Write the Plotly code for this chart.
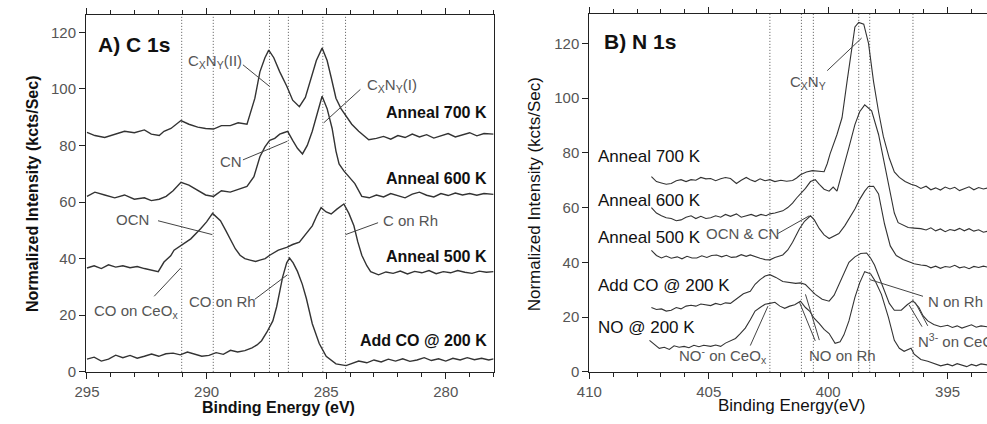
import plotly.graph_objects as go

# ---------------- Panel A : C 1s ----------------
A700_E = [295.0, 294.67, 294.26, 293.84, 293.43, 293.02, 292.6, 292.31, 291.98, 291.78, 291.49, 291.07, 290.74, 290.37, 290.04, 289.71, 289.38, 289.01, 288.68, 288.31, 287.98, 287.77, 287.56, 287.4, 287.19, 286.94, 286.65, 286.4, 286.12, 285.87, 285.62, 285.41, 285.17, 284.96, 284.79, 284.59, 284.38, 284.17, 283.93, 283.64, 283.43, 283.22, 282.9, 282.6, 282.3, 282.0, 281.7, 281.4, 281.1, 280.8, 280.5, 280.2, 279.9, 279.6, 279.3, 279.0, 278.7, 278.4, 278.0]
A700_I = [84.6, 83.5, 82.8, 84, 85, 84.5, 85.5, 84, 83.5, 85, 86, 88.8, 87.5, 86.5, 86, 85.8, 87, 87, 88, 87.5, 96.7, 106, 111, 113.7, 111, 106, 101, 96, 93.7, 97, 104, 110, 114.4, 110, 104, 96.7, 93, 90.5, 87.5, 85, 83.5, 82, 82.5, 83.2, 82.2, 83.5, 82.8, 84, 83, 83.8, 82.6, 83.5, 84.2, 83, 83.8, 84.5, 83.4, 84.2, 84]

A600_E = [295.0, 294.67, 294.26, 293.84, 293.43, 293.02, 292.6, 292.31, 291.98, 291.69, 291.4, 291.07, 290.74, 290.37, 290.04, 289.71, 289.38, 289.01, 288.68, 288.31, 288.02, 287.77, 287.56, 287.36, 287.15, 286.94, 286.78, 286.61, 286.4, 286.2, 285.99, 285.79, 285.58, 285.41, 285.17, 284.96, 284.75, 284.59, 284.46, 284.26, 284.05, 283.8, 283.51, 283.2, 282.9, 282.6, 282.3, 282.0, 281.7, 281.4, 281.1, 280.8, 280.5, 280.2, 279.9, 279.6, 279.3, 279.0, 278.7, 278.4, 278.0]
A600_I = [62, 63.5, 62.5, 61.5, 62.5, 61, 61.5, 60.5, 61, 62, 64, 67, 66, 64, 62.5, 62, 64, 63.5, 64.5, 65.5, 69, 76, 79.5, 81.8, 82.5, 84, 84.5, 85, 81.8, 79, 77, 80, 85, 89.8, 97.4, 93, 86, 78, 73.5, 71, 69, 66.5, 62, 61.5, 62.5, 61.8, 63, 62.2, 61.5, 62.8, 63.5, 62.4, 61.8, 63, 62.3, 63.2, 62.5, 63, 62.4, 63, 62.7]

A500_E = [295.0, 294.7, 294.4, 294.1, 293.8, 293.5, 293.2, 292.9, 292.6, 292.3, 292.02, 291.78, 291.5, 291.36, 291.03, 290.66, 290.25, 290.0, 289.75, 289.55, 289.42, 289.2, 289.01, 288.8, 288.6, 288.4, 288.18, 287.95, 287.77, 287.55, 287.36, 287.0, 286.65, 286.4, 286.12, 285.85, 285.58, 285.4, 285.21, 285.0, 284.79, 284.55, 284.26, 284.05, 283.84, 283.68, 283.51, 283.3, 283.14, 282.81, 282.5, 282.2, 281.9, 281.6, 281.3, 281.0, 280.7, 280.4, 280.1, 279.8, 279.5, 279.2, 278.9, 278.6, 278.3, 278.0]
A500_I = [36.7, 37.5, 36.5, 37.8, 37, 37.5, 36.8, 37.2, 36.5, 35.8, 35.4, 38.8, 41, 43, 45, 47, 50.6, 53, 56, 54.5, 53.4, 50, 47, 43.5, 41.2, 40, 39.5, 39, 39.5, 40, 41.2, 43, 44, 45, 45.8, 48.5, 51.6, 55, 58, 56.5, 55.8, 57.5, 59.3, 56, 51.6, 46, 41.2, 37.5, 35.4, 34.3, 35.3, 34.8, 35.6, 34.6, 35.5, 35, 35.8, 34.7, 35.4, 35, 35.8, 35.2, 34.8, 35.6, 35.2, 35.4]

A200_E = [295.0, 294.7, 294.4, 294.1, 293.8, 293.5, 293.2, 292.9, 292.6, 292.3, 292.0, 291.7, 291.4, 291.1, 290.8, 290.5, 290.2, 289.9, 289.6, 289.3, 289.0, 288.7, 288.4, 288.1, 287.89, 287.7, 287.48, 287.23, 287.07, 286.95, 286.82, 286.65, 286.53, 286.38, 286.2, 286.0, 285.83, 285.58, 285.29, 285.0, 284.59, 284.17, 283.9, 283.64, 283.3, 283.0, 282.7, 282.4, 282.1, 281.8, 281.5, 281.2, 280.9, 280.6, 280.3, 280.0, 279.7, 279.4, 279.1, 278.8, 278.5, 278.2, 278.0]
A200_I = [4.5, 5.2, 3.8, 4.5, 5.9, 5, 5.8, 4.8, 5.5, 6.3, 5.5, 6.4, 6.6, 6, 7, 6.2, 5.5, 5.8, 6.8, 6.2, 7.6, 7, 7.5, 8.5, 9.5, 11, 14, 18, 23, 28, 33.5, 38.5, 40.2, 38.5, 35.5, 31, 26, 17, 10, 5.5, 2.8, 2.2, 3, 3.8, 3.2, 4.2, 3.5, 4.5, 3.8, 4.6, 3.7, 4.2, 5, 4, 4.6, 3.8, 4.8, 4.2, 5, 4.3, 4.8, 4.2, 4.6]

A_REF = [291.04, 289.72, 287.37, 286.58, 285.14, 284.19]

# ---------------- Panel B : N 1s ----------------
B700_E = [407.4, 407.19, 406.98, 406.78, 406.57, 406.36, 406.16, 405.95, 405.74, 405.54, 405.33, 405.12, 404.92, 404.71, 404.5, 404.3, 404.09, 403.84, 403.64, 403.43, 403.26, 403.06, 402.85, 402.64, 402.44, 402.23, 401.98, 401.74, 401.49, 401.32, 401.16, 400.91, 400.66, 400.41, 400.17, 400.04, 399.92, 399.63, 399.42, 399.21, 399.01, 398.88, 398.72, 398.51, 398.31, 398.1, 397.89, 397.69, 397.44, 397.23, 397.02, 396.78, 396.53, 396.32, 396.12, 395.9, 395.7, 395.5, 395.3, 395.1, 394.9, 394.7, 394.5, 394.3, 394.1, 393.9, 393.7, 393.5, 393.3]
B700_I = [71.3, 69.5, 69, 68.5, 68.8, 69.8, 70.2, 69.5, 70.2, 70, 71, 70.5, 70.6, 69.8, 70.5, 71, 70.6, 68.8, 70, 71, 70.2, 69.5, 70.5, 69.8, 70.2, 69.5, 70, 69.6, 69.9, 70.8, 72, 73, 73.5, 73.3, 73.1, 76, 79.6, 86.7, 92.8, 106, 118, 126, 127.6, 127, 120, 106, 95, 86, 78, 73, 71, 69.5, 68.5, 68, 67, 67.8, 66.5, 67.2, 66.4, 67.5, 66.8, 67.4, 66.2, 67, 67.6, 66.5, 67.3, 66.8, 67.2]

B600_E = [407.4, 407.19, 406.98, 406.78, 406.57, 406.36, 406.16, 405.95, 405.74, 405.54, 405.33, 405.12, 404.92, 404.71, 404.5, 404.3, 404.09, 403.84, 403.64, 403.43, 403.22, 403.02, 402.81, 402.6, 402.44, 402.23, 401.9, 401.69, 401.49, 401.32, 401.16, 400.95, 400.74, 400.54, 400.37, 400.17, 399.96, 399.79, 399.63, 399.42, 399.13, 398.88, 398.68, 398.47, 398.18, 397.89, 397.64, 397.44, 397.23, 397.07, 396.86, 396.65, 396.4, 396.12, 395.9, 395.7, 395.5, 395.3, 395.1, 394.9, 394.7, 394.5, 394.3, 394.1, 393.9, 393.7, 393.5, 393.3]
B600_I = [60, 58, 57, 56.3, 56, 55.2, 55.5, 56.5, 57, 56, 56.8, 56, 56.3, 57, 56.5, 57.5, 56.8, 57.7, 56.5, 57, 57.5, 56.8, 57.5, 57, 57.7, 58, 58.8, 60, 61.6, 63.5, 64.9, 67, 69.5, 70.2, 68.5, 66.7, 66, 67.5, 66, 72.4, 82, 90.3, 95, 97.5, 95.3, 86.7, 76, 66.7, 58, 54.5, 53.5, 52.7, 52.5, 52.3, 51.8, 52.6, 51.5, 52.2, 51.2, 52, 51.6, 52.4, 51.5, 52.3, 51.4, 51.9, 51, 51.4]

B500_E = [407.4, 407.19, 406.98, 406.78, 406.57, 406.32, 406.12, 405.91, 405.7, 405.5, 405.29, 405.08, 404.88, 404.67, 404.46, 404.26, 404.05, 403.84, 403.64, 403.43, 403.26, 403.06, 402.85, 402.64, 402.44, 402.23, 401.9, 401.69, 401.49, 401.2, 400.99, 400.74, 400.58, 400.37, 400.17, 399.96, 399.75, 399.55, 399.3, 399.09, 398.88, 398.68, 398.47, 398.31, 398.1, 397.89, 397.64, 397.4, 397.15, 396.86, 396.4, 396.12, 395.9, 395.7, 395.5, 395.3, 395.1, 394.9, 394.7, 394.5, 394.3, 394.1, 393.9, 393.7, 393.5, 393.3]
B500_I = [44.4, 42.5, 41.6, 42.3, 41.5, 42, 41.3, 42.2, 41.6, 41.6, 42.4, 41.8, 42.5, 42.7, 42, 42.6, 41.8, 42, 42.8, 42.2, 42.7, 42, 41.5, 41, 40.9, 41.8, 42.7, 44.5, 47.3, 52.3, 55, 57, 55.5, 52.3, 50, 48.7, 49.5, 50.5, 53.4, 56.5, 59.5, 63, 66, 67.7, 67.8, 65, 54, 46, 42.5, 41, 39.5, 39, 38.8, 38, 38.6, 37.8, 38.5, 38.2, 38.9, 38, 38.4, 37.7, 38.5, 38.1, 38.6, 38.2]

BCO_E = [407.4, 407.19, 406.98, 406.78, 406.57, 406.36, 406.16, 405.95, 405.74, 405.54, 405.33, 405.12, 404.92, 404.71, 404.5, 404.3, 404.09, 403.97, 403.76, 403.55, 403.26, 403.06, 402.85, 402.64, 402.44, 402.19, 401.9, 401.61, 401.36, 401.16, 400.95, 400.74, 400.54, 400.25, 399.96, 399.75, 399.55, 399.34, 399.13, 398.88, 398.64, 398.39, 398.22, 398.06, 397.85, 397.64, 397.44, 397.23, 396.94, 396.69, 396.45, 396.2, 396.03, 395.83, 395.58, 395.29, 395.0, 394.8, 394.6, 394.4, 394.2, 394.0, 393.8, 393.6, 393.3]
BCO_I = [23.5, 22.8, 23, 22.2, 22.5, 23.5, 23, 24, 24.3, 24, 24.8, 24.5, 24.2, 25, 24.5, 25.2, 25, 25.8, 27, 28.5, 29.4, 32, 33.7, 35, 35.5, 34.5, 33, 32.5, 32.3, 32.5, 31.9, 30, 28.3, 26.5, 25.8, 28, 31.9, 36, 40, 42, 43.2, 43.4, 41.5, 39, 34, 29.4, 25, 22.5, 22.5, 24.5, 26, 23.5, 20.5, 18.6, 17.3, 16.5, 17, 16.2, 16.8, 16, 16.6, 17.2, 16.3, 16.8, 16.4]

BNO_E = [407.48, 407.27, 407.07, 406.86, 406.65, 406.45, 406.24, 406.03, 405.83, 405.62, 405.41, 405.21, 404.92, 404.71, 404.5, 404.3, 404.09, 403.88, 403.68, 403.47, 403.26, 403.06, 402.85, 402.64, 402.44, 402.23, 402.02, 401.82, 401.61, 401.4, 401.16, 400.95, 400.78, 400.58, 400.37, 400.17, 399.96, 399.71, 399.5, 399.34, 399.13, 398.88, 398.68, 398.47, 398.22, 398.02, 397.77, 397.48, 397.23, 397.02, 396.82, 396.53, 396.4, 396.12, 395.83, 395.58, 395.29, 395.0, 394.8, 394.6, 394.4, 394.2, 394.0, 393.8, 393.6, 393.3]
BNO_I = [11.5, 10, 8.6, 9, 8.2, 9.5, 9, 9.3, 8.8, 9.7, 9.2, 9.7, 9.3, 9.8, 9.3, 10.5, 11.5, 12.2, 14, 16, 19, 22.2, 23.5, 24.7, 25, 25.4, 24, 23.2, 24, 24.5, 25.8, 23.5, 22.2, 19.5, 17.6, 15.5, 14, 10.4, 11, 13.5, 18.6, 27.2, 32.5, 36.6, 35.8, 33, 28.3, 20, 11.5, 8.6, 7.5, 8.6, 6.5, 4.5, 3.9, 3, 2.2, 2.8, 2.2, 3, 2.5, 1.9, 2.7, 2.2, 2.9, 2.5]

B_REF = [402.44, 401.12, 400.62, 398.72, 398.26, 396.45]

W, H = 987, 424
FONT = "Arial, Liberation Sans, sans-serif"
INK = "#222222"
CURVE = "#333333"
GRAY = "#555555"

fig = go.Figure()
for E, I in [(A700_E, A700_I), (A600_E, A600_I), (A500_E, A500_I), (A200_E, A200_I)]:
    fig.add_trace(go.Scatter(x=E, y=I, mode="lines", xaxis="x", yaxis="y",
                             line=dict(color=CURVE, width=1.4), hoverinfo="skip", showlegend=False))
for E, I in [(B700_E, B700_I), (B600_E, B600_I), (B500_E, B500_I), (BCO_E, BCO_I), (BNO_E, BNO_I)]:
    fig.add_trace(go.Scatter(x=E, y=I, mode="lines", xaxis="x2", yaxis="y2",
                             line=dict(color=CURVE, width=1.1), hoverinfo="skip", showlegend=False))

shapes = []
for e in A_REF:
    shapes.append(dict(type="line", xref="x", yref="y domain", x0=e, x1=e, y0=0, y1=1,
                       line=dict(color="#555", width=1, dash="1px,2px"), layer="below"))
for e in B_REF:
    shapes.append(dict(type="line", xref="x2", yref="y2 domain", x0=e, x1=e, y0=0, y1=1,
                       line=dict(color="#555", width=1, dash="1px,2px"), layer="below"))

def leader(ax, x0, y0, x1, y1):
    xr, yr = ("x", "y") if ax == "A" else ("x2", "y2")
    shapes.append(dict(type="line", xref=xr, yref=yr, x0=x0, y0=y0, x1=x1, y1=y1,
                       line=dict(color="#444", width=1)))

annotations = []

def label(ax, text, x, y, size=15, color=GRAY, xanchor="center", bold=False):
    xr, yr = ("x", "y") if ax == "A" else ("x2", "y2")
    if bold:
        text = "<b>" + text + "</b>"
    annotations.append(dict(xref=xr, yref=yr, x=x, y=y, text=text, showarrow=False,
                            xanchor=xanchor, yanchor="middle",
                            font=dict(family=FONT, size=size, color=color)))

def ptext(text, px, py, size, bold=False, angle=0, color="#111"):
    if bold:
        text = "<b>" + text + "</b>"
    annotations.append(dict(xref="paper", yref="paper", x=px / W, y=1 - py / H, text=text,
                            showarrow=False, xanchor="center", yanchor="middle", textangle=angle,
                            font=dict(family=FONT, size=size, color=color)))

# Panel A labels
label("A", "A) C 1s", 294.63, 115.8, size=21, color="#111", xanchor="left", bold=True)
label("A", "C<sub>X</sub>N<sub>Y</sub>(II)", 289.64, 109.5)
leader("A", 288.48, 108.5, 287.37, 100.9)
label("A", "C<sub>X</sub>N<sub>Y</sub>(I)", 282.25, 101.2)
leader("A", 283.57, 99.8, 285.10, 88.0)
label("A", "CN", 288.98, 74.2)
leader("A", 288.48, 74.9, 286.62, 81.5)
label("A", "OCN", 293.1, 53.7)
leader("A", 292.03, 53.4, 289.76, 48.5)
label("A", "C on Rh", 282.7, 53.4, xanchor="left")
leader("A", 282.83, 52.7, 284.19, 48.5)
label("A", "CO on CeO<sub>x</sub>", 292.94, 21.5)
leader("A", 292.19, 26.7, 291.08, 36.7)
label("A", "CO on Rh", 289.35, 25.0)
leader("A", 287.99, 25.6, 286.62, 34.3)
for txt, yy in [("Anneal 700 K", 91.5), ("Anneal 600 K", 68.3), ("Anneal 500 K", 40.9), ("Add CO @ 200 K", 11.1)]:
    label("A", txt, 278.21, yy, size=16, color="#111", xanchor="right", bold=True)

# Panel B labels
label("B", "B) N 1s", 409.46, 120.8, size=21, color="#111", xanchor="left", bold=True)
label("B", "C<sub>X</sub>N<sub>Y</sub>", 400.83, 105.7)
leader("B", 400.04, 110.0, 398.6, 121.9)
for txt, yy in [("Anneal 700 K", 78.5), ("Anneal 600 K", 62.7), ("Anneal 500 K", 49.1),
                ("Add CO @ 200 K", 31.5), ("NO @ 200 K", 16.1)]:
    label("B", txt, 409.7, yy, size=17, color="#111", xanchor="left")
label("B", "OCN &amp; CN", 403.6, 50.5)
leader("B", 402.11, 50.5, 400.79, 57.0)
label("B", "NO<sup>-</sup> on CeO<sub>x</sub>", 404.42, 6.0)
leader("B", 403.26, 9.6, 402.52, 24.0)
label("B", "NO on Rh", 399.42, 5.8)
leader("B", 400.54, 11.3, 401.2, 25.4)
leader("B", 400.37, 11.6, 400.95, 28.3)
label("B", "N on Rh", 395.91, 25.8, xanchor="left")
leader("B", 396.03, 27.6, 398.26, 33.7)
label("B", "N<sup>3-</sup> on CeO<sub>x</sub>", 396.32, 11.1, xanchor="left")
leader("B", 396.07, 16.5, 396.61, 24.4)
leader("B", 395.83, 16.8, 396.36, 25.4)

# axis titles
ptext("Normalized Intensity (kcts/Sec)", 20, 197, 16, bold=True, angle=-90)
ptext("Binding Energy (eV)", 269, 415, 16, bold=True)
ptext("Normalized Intensity (kcts/Sec)", 528, 198, 17, angle=-90)
ptext("Binding Energy(eV)", 789, 413, 17)

axis_common = dict(showline=True, linecolor=INK, linewidth=1, ticks="outside", tickcolor=INK,
                   ticklen=6, tickwidth=1, showgrid=False, zeroline=False,
                   tickfont=dict(family=FONT, size=15, color=GRAY))
xminor = dict(dtick=1, ticks="outside", ticklen=4, tickcolor=INK, showgrid=False)

fig.update_layout(
    width=W, height=H, autosize=False,
    margin=dict(l=0, r=0, t=0, b=0),
    paper_bgcolor="white", plot_bgcolor="white",
    xaxis=dict(domain=[74 / W, 487 / W], range=[295.04, 278.0], anchor="y", tick0=0, dtick=5,
               mirror="ticks", minor=xminor, **axis_common),
    yaxis=dict(domain=[45 / H, 409 / H], range=[0, 126.2], anchor="x", tick0=0, dtick=20,
               mirror=True, **axis_common),
    xaxis2=dict(domain=[584 / W, 1.0], range=[410, 393.35], anchor="y2", tick0=0, dtick=5,
                mirror="ticks", minor=xminor, **axis_common),
    yaxis2=dict(domain=[45 / H, 410 / H], range=[0, 130.8], anchor="x2", tick0=0, dtick=20,
                **axis_common),
    shapes=shapes,
    annotations=annotations,
)

fig.write_html("out.html")
